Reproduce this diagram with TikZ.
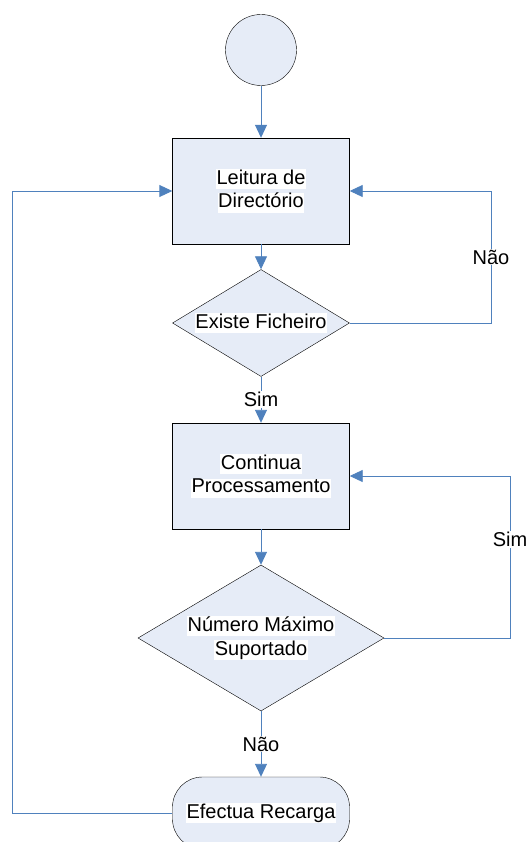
\documentclass[tikz,border=0pt]{standalone}
\usepackage{fontspec}
\setmainfont{Liberation Sans}
\usepackage{xcolor}
\usetikzlibrary{shapes.geometric,arrows.meta}

\definecolor{flowblue}{HTML}{4F81BD}
\definecolor{boxfill}{HTML}{E6ECF7}

% white strip behind each line of text
\newcommand{\wbg}[1]{{\fboxsep=0.5pt\colorbox{white}{\vphantom{Hg}#1}}}

\tikzset{
  procbox/.style={draw=black, fill=boxfill, rectangle, minimum width=177pt, minimum height=106pt, align=center},
  decis/.style={draw=black, fill=boxfill, diamond, inner sep=0pt, align=center},
  startc/.style={draw=black, fill=boxfill, circle, minimum size=71pt, inner sep=0pt},
  endbox/.style={draw=black, fill=boxfill, rectangle, rounded corners=30pt, minimum width=177pt, minimum height=72pt},
  flow/.style={draw=flowblue, line width=0.9pt, -{Triangle[width=12pt,length=13pt]}},
  lbl/.style={fill=white, inner sep=1pt}
}

\begin{document}
\begin{tikzpicture}[x=1pt,y=-1pt,font=\fontsize{20}{23.5}\selectfont]
  \clip (0,0) rectangle (527,842);
  \useasboundingbox (0,0) rectangle (527,842);

  \node[startc] (inicio) at (261,50) {};
  \node[procbox] (leitura) at (261,191) {\wbg{Leitura de}\\\wbg{Directório}};
  \node[decis, minimum width=177pt, minimum height=107pt, shape aspect=1.68] (existe) at (261,323) {\wbg{Existe Ficheiro}};
  \node[procbox] (continua) at (261,476) {\wbg{Continua}\\\wbg{Processamento}};
  \node[decis, minimum width=246pt, minimum height=146pt, shape aspect=1.72] (maximo) at (261,638) {\wbg{Número Máximo}\\\wbg{Suportado}};
  \node[endbox] (recarga) at (261,813) {\wbg{Efectua Recarga}};

  \coordinate (esq) at (12,0);
  \coordinate (dir1) at (491,0);
  \coordinate (dir2) at (510,0);

  \draw[flow] (inicio) -- (leitura);
  \draw[flow] (leitura) -- (existe);
  \draw[flow] (existe) -- node[lbl] {Sim} (continua);
  \draw[flow] (continua) -- (maximo);
  \draw[flow] (maximo) -- node[lbl] {Não} (recarga);

  \draw[flow] (existe.east) -- (existe.east -| dir1) -- node[lbl] {Não} (leitura.east -| dir1) -- (leitura.east);
  \draw[flow] (maximo.east) -- (maximo.east -| dir2) -- node[lbl, pos=0.61] {Sim} (continua.east -| dir2) -- (continua.east);
  \draw[flow] (recarga.west) -- (recarga.west -| esq) -- (leitura.west -| esq) -- (leitura.west);
\end{tikzpicture}
\end{document}
